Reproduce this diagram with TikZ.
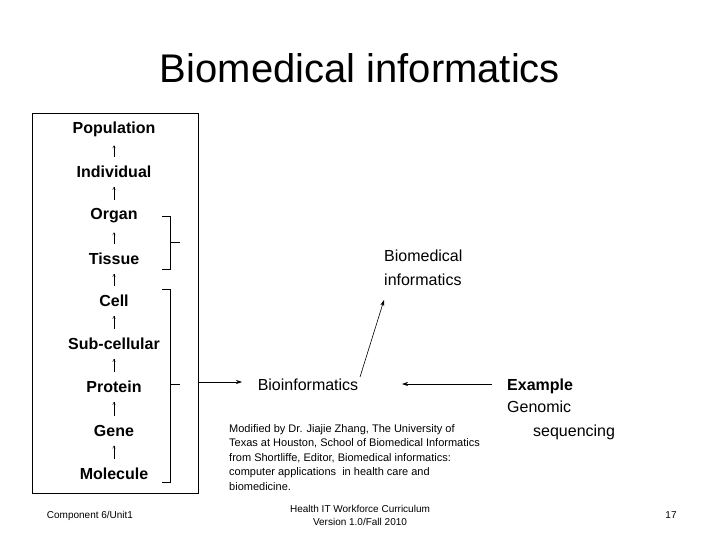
\documentclass[tikz,border=0pt]{standalone}
\usepackage{fontspec}
\setmainfont{Liberation Sans}
\usetikzlibrary{positioning, arrows.meta}
\begin{document}
\begin{tikzpicture}[x=1pt,y=-1pt]
\tikzstyle{every node}=[inner sep=0pt]
\tikzstyle{level}=[font=\bfseries\fontsize{16}{18}\selectfont,outer ysep=9pt]
\tikzstyle{uparrow}=[-{To[length=3pt,width=3pt]},thin]
\tikzstyle{link}=[-{Stealth[length=6pt,width=4pt]},semithick]
\tikzstyle{small}=[font=\fontsize{11}{14.5}\selectfont,align=left]
\useasboundingbox (0,0) rectangle (720,540);

\node[font=\fontsize{40}{44}\selectfont] (title) at (360,68) {Biomedical informatics};
\draw (32,113) rectangle (198,493);

% the levels
\foreach \name/\txt/\y in {pop/Population/129,ind/Individual/172,org/Organ/216,tis/Tissue/259,cel/Cell/301,sub/Sub-cellular/344,pro/Protein/387,gen/Gene/431,mol/Molecule/474}
  \node[level] (\name) at (114,\y) {\txt};
\foreach \a/\b in {ind/pop,org/ind,tis/org,cel/tis,sub/cel,pro/sub,gen/pro,mol/gen}
  \draw[uparrow] (\a.north) -- (\b.south);

% brackets
\draw (162,216) -- (170,216) -- (170,269) -- (162,269);
\draw (170,242) -- (180,242);
\draw (162,289) -- (170,289) -- (170,482) -- (162,482);
\draw (170,384) -- (180,384);

\node[font=\fontsize{16}{18}\selectfont] (bio) at (308,385) {Bioinformatics};
\node[font=\fontsize{16}{24}\selectfont,align=left,anchor=north west] (bmi) at (384,250) {Biomedical\\informatics};
\node[level,anchor=west] (ex) at (507,386) {Example};
\node[font=\fontsize{16}{24}\selectfont,align=left,anchor=north west] (gs) at (507,401) {Genomic\\\hspace*{26pt}sequencing};
\coordinate (pin) at (198,382);
\coordinate (bioa) at (242,382);
\coordinate (exl) at (492,384);
\coordinate (bioe) at (402,384);
\coordinate (biot) at (360,377);
\coordinate (bmib) at (384,300);
\draw[link] (pin) -- (bioa);
\draw[link] (exl) -- (bioe);
\draw[link] (biot) -- (bmib);

\node[small,anchor=north west] (note) at (229,424) {Modified by Dr. Jiajie Zhang, The University of\\Texas at Houston, School of Biomedical Informatics\\from Shortliffe, Editor, Biomedical informatics:\\computer applications \ in health care and\\biomedicine.};
\node[small,font=\fontsize{10}{13}\selectfont] (unit) at (90,516) {Component 6/Unit1};
\node[small,font=\fontsize{10}{13}\selectfont,align=center] (hit) at (360,515) {Health IT Workforce Curriculum\\Version 1.0/Fall 2010};
\node[small,font=\fontsize{10}{13}\selectfont] (page) at (671,515) {17};
\end{tikzpicture}
\end{document}
